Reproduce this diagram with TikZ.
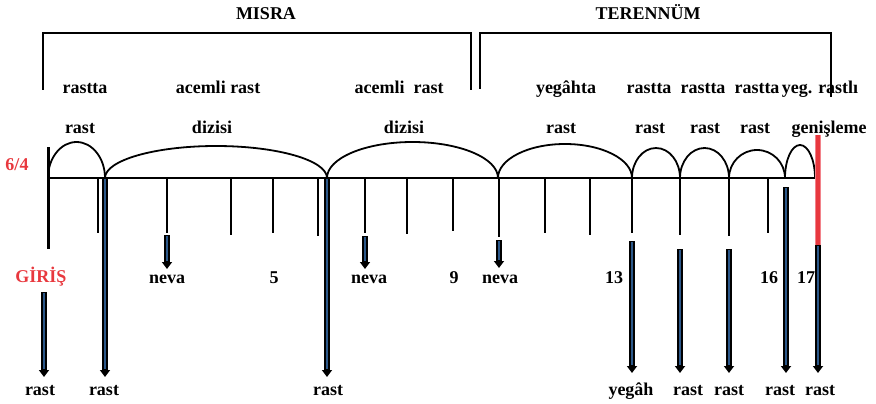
\documentclass[tikz,border=0pt]{standalone}
\usepackage{fontspec}
\setmainfont{Liberation Serif}
\usetikzlibrary{arrows.meta}
\definecolor{shaftblue}{RGB}{44,88,138}
\definecolor{markred}{RGB}{232,56,62}
\definecolor{barpink}{RGB}{242,130,138}

% a blue shaft with a black outline and a black head
\newcommand\shaftarrow[2]{%
  \draw[shaftout] (#1) -- (#2);
  \draw[shaftin] (#1) -- (#2);}

\begin{document}
\begin{tikzpicture}[x=1pt,y=-1pt,
  lbl/.style={font=\fontsize{18}{20}\selectfont\bfseries, anchor=base, inner sep=0pt},
  redlbl/.style={lbl, text=markred},
  axis/.style={line width=2pt, black},
  tick/.style={line width=1.8pt, black},
  bow/.style={line width=1.8pt, black},
  brace/.style={line width=2.2pt, black},
  shaftout/.style={line width=5.2pt, black, -{Triangle[width=10pt,length=7pt]}},
  shaftin/.style={line width=2.6pt, shaftblue, shorten >=7.6pt, shorten <=1.2pt},
]
\useasboundingbox (0,0) rectangle (876,404);

% section brackets
\draw[brace] (43,90) |- (471,33) -- (471,90);
\draw[brace] (480,89) |- (831,33) -- (831,97);
\node[lbl] (misra) at (266,20) {MISRA};
\node[lbl] (terennum) at (648,20) {TERENNÜM};

% upper labels, first line
\node[lbl] (u1) at (85,94) {rastta};
\node[lbl] (u2) at (218,94) {acemli rast};
\node[lbl] (u3) at (399,94) {acemli~ rast};
\node[lbl] (u4) at (566,94) {yegâhta};
\node[lbl] (u5) at (649,94) {rastta};
\node[lbl] (u6) at (703,94) {rastta};
\node[lbl] (u7) at (757,94) {rastta};
\node[lbl] (u8) at (820,94) {yeg. rastlı};
% upper labels, second line
\node[lbl] (v1) at (80,133) {rast};
\node[lbl] (v2) at (212,133) {dizisi};
\node[lbl] (v3) at (404,133) {dizisi};
\node[lbl] (v4) at (561,133) {rast};
\node[lbl] (v5) at (650,133) {rast};
\node[lbl] (v6) at (705,133) {rast};
\node[lbl] (v7) at (755,133) {rast};
\node[lbl] (v8) at (829,133) {genişleme};

\node[redlbl] (meter) at (17,170) {6/4};

% time line and its segment points
\coordinate (p0) at (48,178);
\coordinate (p1) at (105,178);
\coordinate (p2) at (327,178);
\coordinate (p3) at (498,178);
\coordinate (p4) at (632,178);
\coordinate (p5) at (680,178);
\coordinate (p6) at (729,178);
\coordinate (p7) at (785,178);
\coordinate (p8) at (815,178);
\draw[axis] (p0) -- (p8);
\draw[line width=3pt] (48,147) -- (48,249);

% bows over each segment
\draw[bow] (p0) arc[start angle=180, end angle=360, x radius=28.5, y radius=36];
\draw[bow] (p1) arc[start angle=180, end angle=360, x radius=111, y radius=32];
\draw[bow] (p2) arc[start angle=180, end angle=360, x radius=85.5, y radius=36];
\draw[bow] (p3) arc[start angle=180, end angle=360, x radius=67, y radius=34];
\draw[bow] (p4) arc[start angle=180, end angle=360, x radius=24, y radius=30];
\draw[bow] (p5) arc[start angle=180, end angle=360, x radius=24.5, y radius=30];
\draw[bow] (p6) arc[start angle=180, end angle=360, x radius=28, y radius=28];
\draw[bow] (p7) arc[start angle=180, end angle=360, x radius=15, y radius=33];

% beat ticks
\foreach \x/\y in {98/233,167/233,231/235,273/233,318/236,365/233,407/234,
                   453/231,499/237,545/233,590/235,632/233,680/235,729/236,768/233}
  \draw[tick] (\x,178) -- (\x,\y);

% middle labels
\node[redlbl] (giris) at (41,282) {GİRİŞ};
\node[lbl] (n1) at (167,283) {neva};
\node[lbl] (b5) at (274,283) {5};
\node[lbl] (n2) at (369,283) {neva};
\node[lbl] (b9) at (454,283) {9};
\node[lbl] (n3) at (500,283) {neva};
\node[lbl] (b13) at (614,283) {13};
\node[lbl] (b16) at (769,283) {16};
\node[lbl] (b17) at (806,283) {17};

% lower labels
\node[lbl] (r1) at (40,395) {rast};
\node[lbl] (r2) at (104,395) {rast};
\node[lbl] (r3) at (328,395) {rast};
\node[lbl] (r4) at (631,395) {yegâh};
\node[lbl] (r5) at (688,395) {rast};
\node[lbl] (r6) at (729,395) {rast};
\node[lbl] (r7) at (780,395) {rast};
\node[lbl] (r8) at (820,395) {rast};

% arrow end points
\coordinate (s0) at (44,292);   \coordinate (e0) at (44,377);
\coordinate (e1) at (105,377);
\coordinate (e2) at (327,377);
\coordinate (sn1) at (167,235); \coordinate (en1) at (167,269);
\coordinate (sn2) at (365,236); \coordinate (en2) at (365,269);
\coordinate (sn3) at (499,240); \coordinate (en3) at (499,268);
\coordinate (s4) at (632,241);  \coordinate (e4) at (632,373);
\coordinate (s5) at (680,249);  \coordinate (e5) at (680,373);
\coordinate (s6) at (729,249);  \coordinate (e6) at (729,373);
\coordinate (s7) at (786,187);  \coordinate (e7) at (786,373);
\coordinate (rt) at (818,135);  \coordinate (s8) at (818,245);
\coordinate (e8) at (818,373);

% red widening bar
\draw[line width=6pt, barpink] (rt) -- (s8);
\draw[line width=3.6pt, markred] (rt) -- (s8);

\shaftarrow{s0}{e0}
\shaftarrow{p1}{e1}
\shaftarrow{p2}{e2}
\shaftarrow{sn1}{en1}
\shaftarrow{sn2}{en2}
\shaftarrow{sn3}{en3}
\shaftarrow{s4}{e4}
\shaftarrow{s5}{e5}
\shaftarrow{s6}{e6}
\shaftarrow{s7}{e7}
\shaftarrow{s8}{e8}
\end{tikzpicture}
\end{document}
